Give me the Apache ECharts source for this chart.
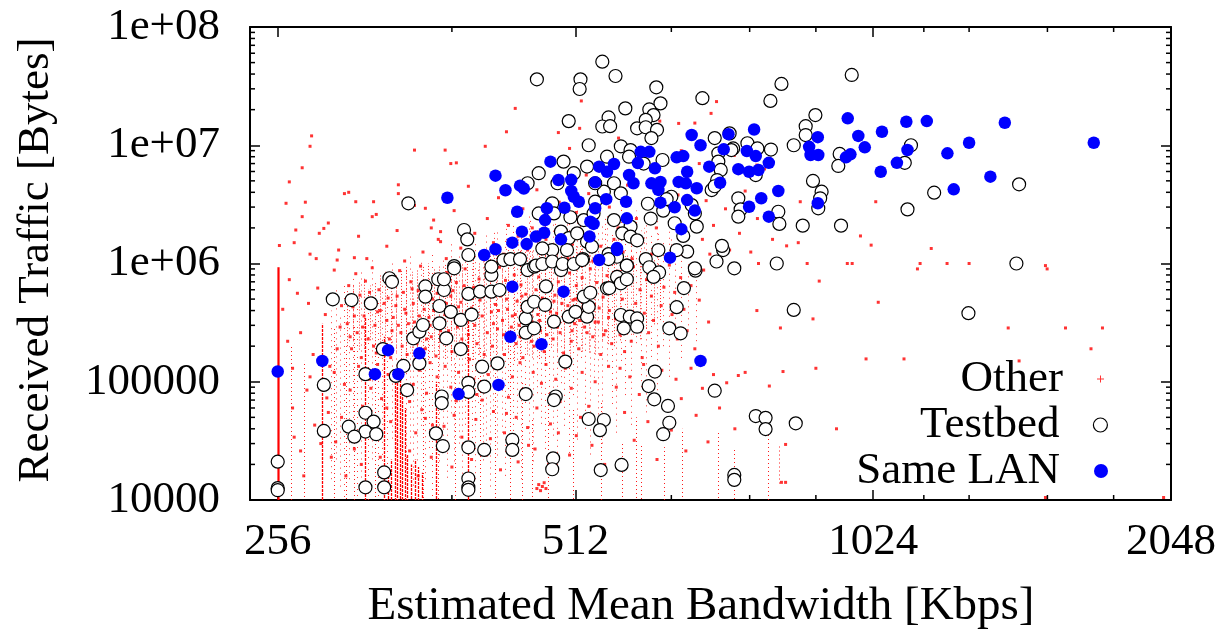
<!DOCTYPE html>
<html>
<head>
<meta charset="utf-8">
<script src="https://cdn.jsdelivr.net/npm/echarts@6/dist/echarts.min.js"></script>
<style>
  html, body { margin: 0; padding: 0; background: #fff; }
  #chart { width: 1223px; height: 641px; }
</style>
</head>
<body>
<div id="chart"></div>
<script>
// axes
const xMin = 240, xMax = 2048;
const yMin = 1e4, yMax = 1e8;
const xMinorTicks = [384, 640, 768, 896, 1152, 1280, 1536, 1792];
const yTickLabels = ['10000', '100000', '1e+06', '1e+07', '1e+08'];
const yMinorTicks = [
  2e4, 3e4, 4e4, 5e4, 6e4, 7e4, 8e4, 9e4,
  2e5, 3e5, 4e5, 5e5, 6e5, 7e5, 8e5, 9e5,
  2e6, 3e6, 4e6, 5e6, 6e6, 7e6, 8e6, 9e6,
  2e7, 3e7, 4e7, 5e7, 6e7, 7e7, 8e7, 9e7
];

// "Other" hosts: scattered dots [bandwidth, bytes]
const otherPoints = [
  [259,4.1e5],[262,2.2e5],[263,7.3e5],[265,1.3e5],[266,3.4e4],[268,5.6e5],[270,2.6e5],[272,1.6e4],[274,8.5e4],[275,4.6e5],
  [278,1.7e5],[281,6.2e5],[286,3.7e5],[288,5.5e4],[290,2.3e4],[292,8.8e5],[294,1.9e5],[297,4.4e5],[299,9.5e4],[296,2.9e5],
  [289,1.35e5],[283,3.0e4],
  [301,3.1e5],[302,6.5e5],[304,1.9e5],[305,4.3e5],[307,8.2e5],[308,2.6e5],[310,5.4e5],[311,1.6e5],[313,3.6e5],[314,7.1e5],
  [316,2.3e5],[318,4.8e5],[319,9.2e5],[321,3.0e5],[322,1.75e5],[324,6.0e5],[325,4.0e5],[327,2.1e5],[329,7.8e5],[330,3.3e5],
  [331,5.1e5],[333,1.6e5],[334,2.7e5],[336,6.6e5],[337,4.4e5],[339,3.0e5],[340,8.7e5],[342,2.0e5],[343,5.7e5],[345,3.8e5],
  [346,1.7e5],[348,2.5e5],[349,7.0e5],[351,4.6e5],[352,3.2e5],[354,2.1e5],[355,5.9e5],[357,9.5e5],[358,2.8e5],[360,4.1e5],
  [361,1.9e5],[363,6.4e5],[364,3.5e5],[366,2.4e5],[367,5.0e5],[369,7.6e5],[370,1.65e5],[372,3.1e5],[373,4.4e5],[375,2.2e5],
  [376,6.1e5],[378,3.7e5],[380,8.4e5],[381,2.7e5],[383,5.3e5],[384,1.8e5],[386,4.0e5],[388,6.9e5],[389,2.9e5],[391,2.0e5],
  [392,4.7e5],[394,3.4e5],[396,9.0e5],[397,5.6e5],[399,2.5e5],[400,1.55e5],[402,4.2e5],[404,6.3e5],[405,3.0e5],[407,2.1e5],
  [409,7.4e5],[410,4.9e5],[412,3.6e5],[414,1.7e5],[415,5.8e5],[417,2.6e5],[419,8.1e5],
  [303,2.4e5],[306,3.6e5],[312,2.9e5],[317,5.7e5],[320,2.0e5],[323,3.9e5],[328,4.6e5],[332,2.3e5],[335,3.5e5],[338,5.3e5],
  [341,2.6e5],[344,4.1e5],[347,3.1e5],[350,6.1e5],[353,2.7e5],[356,3.6e5],[359,5.0e5],[362,2.3e5],[365,3.0e5],[368,4.0e5],
  [371,5.6e5],[374,2.7e5],[377,3.3e5],[379,4.6e5],[382,2.4e5],[385,5.9e5],[387,3.4e5],[390,4.3e5],[393,2.3e5],[395,6.5e5],
  [421,3.9e5],[422,2.0e5],[424,6.2e5],[425,4.5e5],[427,2.8e5],[429,9.3e5],[430,5.3e5],[432,3.3e5],[434,1.7e5],[435,7.2e5],
  [437,4.1e5],[439,2.4e5],[440,5.9e5],[442,3.6e5],[444,8.0e5],[446,2.1e5],[447,4.8e5],[449,3.0e5],[451,6.6e5],[453,1.6e5],
  [454,3.9e5],[456,5.5e5],[458,2.6e5],[460,8.9e5],[461,4.4e5],[463,3.2e5],[465,2.0e5],[467,6.0e5],[469,3.7e5],[470,7.7e5],
  [472,2.7e5],[474,5.1e5],[476,1.8e5],[478,4.2e5],[480,6.8e5],[482,3.0e5],[484,9.6e5],[486,2.3e5],[488,5.4e5],[490,3.8e5],
  [492,7.0e5],[494,2.6e5],[496,4.6e5],[498,1.75e5],[500,6.1e5],[502,3.4e5],[505,8.3e5],[507,2.2e5],[509,4.9e5],[511,3.1e5],
  [513,6.5e5],[516,1.9e5],[518,4.0e5],[520,7.6e5],[523,2.9e5],[525,5.6e5],[528,3.5e5],[530,9.0e5],[533,2.4e5],[535,4.5e5],
  [538,6.9e5],[540,3.2e5],[543,1.7e5],[546,5.2e5],[549,2.7e5],[551,7.9e5],[554,4.0e5],[557,2.1e5],[559,6.0e5],
  [423,3.1e5],[428,4.0e5],[433,2.5e5],[436,5.0e5],[441,2.9e5],[445,3.7e5],[450,2.4e5],[452,5.3e5],[457,3.5e5],[462,2.2e5],
  [466,4.6e5],[471,3.3e5],[475,6.2e5],[479,2.5e5],[483,3.9e5],[487,4.8e5],[491,2.9e5],[495,5.7e5],[499,3.3e5],[503,4.4e5],
  [508,2.7e5],[512,5.0e5],[517,3.3e5],[521,4.3e5],[526,2.6e5],[531,5.4e5],[536,3.2e5],[541,4.2e5],[547,2.5e5],[553,3.5e5],
  [562,3.4e5],[565,8.6e5],[568,2.5e5],[571,5.0e5],[574,1.8e5],[577,6.7e5],[580,3.9e5],[583,2.2e5],[586,9.4e5],[589,4.6e5],
  [592,3.0e5],[595,6.0e5],[598,1.6e5],[601,3.8e5],[604,7.3e5],[607,2.6e5],[611,5.3e5],[614,3.3e5],[618,8.2e5],[621,2.0e5],
  [625,4.4e5],[629,6.3e5],[633,2.9e5],[637,9.7e5],[641,3.7e5],[645,5.7e5],[649,2.3e5],[654,7.6e5],[659,4.1e5],[664,2.7e5],
  [670,6.5e5],[676,1.9e5],[683,4.9e5],[690,8.8e5],[698,3.2e5],
  [292,1.2e5],[297,5.0e4],[303,8.5e4],[306,2.7e4],[309,1.35e5],[312,6.2e4],[317,1.05e5],[320,3.9e4],[323,1.4e5],[326,7.2e4],
  [331,1.15e5],[333,4.6e4],[346,1.3e5],[348,6.8e4],[351,9.5e4],[353,3.7e4],[356,1.25e5],[358,5.8e4],[362,8.0e4],[365,1.45e5],
  [367,4.3e4],[371,1.1e5],[374,6.5e4],[378,1.35e5],[380,2.9e4],[383,9.0e4],[386,5.2e4],[390,1.2e5],[393,3.4e4],[395,7.7e4],
  [404,1.05e5],[406,4.8e4],[409,1.4e5],[412,7.0e4],[416,2.4e4],[418,1.15e5],[423,5.6e4],[427,9.3e4],[431,1.35e5],[434,3.7e4],
  [438,7.4e4],[442,1.1e5],[446,5.0e4],[450,1.45e5],[455,8.2e4],[459,2.9e4],[464,1.2e5],[468,6.0e4],[473,9.7e4],[478,1.4e5],
  [483,4.4e4],[489,1.05e5],[494,6.8e4],[500,1.3e5],[507,8.8e4],[513,3.5e4],[520,1.2e5],[528,6.2e4],[536,1.0e5],[545,4.9e4],
  [553,1.35e5],
  [265,6.0e4],[270,2.6e4],[276,1.1e5],[279,4.3e4],[287,7.3e4],[293,3.1e4],[300,1.6e4],[311,2.0e4],[318,8.8e4],[325,2.3e4],
  [330,6.0e4],[348,2.6e4],[355,1.6e4],[361,4.9e4],[366,2.3e4],[377,4.2e4],[384,1.9e4],[388,6.9e4],[402,2.2e4],[407,7.8e4],
  [420,3.3e4],[430,1.8e4],[436,5.4e4],[448,2.1e4],[458,4.1e4],[466,2.7e4],[481,2.0e4],[492,3.7e4],[505,2.4e4],[518,5.0e4],
  [532,2.9e4],[548,2.0e4],
  [468,1.25e4],[470,1.35e4],[472,1.2e4],[474,1.3e4],[476,1.4e4],[478,1.25e4],
  [563,9.0e4],[568,1.3e5],[574,5.5e4],[581,1.1e5],[587,3.2e4],[594,7.8e4],[600,1.4e5],[606,4.6e4],[612,9.6e4],[619,2.2e4],
  [626,1.25e5],[633,6.4e4],[640,3.9e4],[647,1.05e5],[655,7.2e4],[662,2.6e4],[670,1.3e5],[678,5.2e4],[688,8.8e4],[697,3.1e4],
  [706,1.15e5],[716,6.0e4],[728,9.8e4],[742,4.0e4],[760,1.2e5],
  [266,1.5e6],[273,3.3e6],[280,1.1e6],[288,2.2e6],[295,1.3e6],[302,4.0e6],[309,1.7e6],[315,1.1e6],[322,2.6e6],[330,1.4e6],
  [338,1.9e6],[344,1.05e6],[352,3.1e6],[359,1.25e6],[366,2.0e6],[372,1.6e6],[379,1.1e6],[386,2.8e6],[392,1.35e6],[399,4.5e6],
  [405,1.8e6],[411,1.15e6],[417,2.4e6],[423,1.5e6],[428,3.6e6],[433,1.2e6],[438,2.1e6],[443,1.05e6],[448,1.7e6],[453,2.9e6],
  [458,1.3e6],[463,2.0e6],[468,4.2e6],[473,1.1e6],[478,1.6e6],[483,2.5e6],[488,1.25e6],[493,3.3e6],[498,1.9e6],[503,1.1e6],
  [508,1.45e6],[513,2.7e6],[518,1.2e6],[523,1.75e6],[528,3.9e6],[533,1.05e6],[538,2.2e6],[543,1.4e6],[549,1.15e6],[554,3.0e6],
  [560,1.6e6],[566,2.0e6],[572,1.25e6],[578,4.6e6],[584,1.1e6],[590,2.4e6],[597,1.5e6],[604,3.4e6],[611,1.2e6],[618,2.0e6],
  [626,1.35e6],[634,2.9e6],
  [261,3.23e6],[263,4.9e6],[257,1.42e6],[299,3.9e6],[307,3.33e6],[320,3.33e6],[319,2.49e6],[339,4.63e6],[339,3.9e6],[361,2.93e6],
  [368,2.33e6],[374,1.86e6],[374,1.53e6],[285,1.98e6],[282,1.8e6],[271,2.49e6],[267,1.92e6],[276,1.2e6],[294,1.07e6],[306,1.12e6],
  [277,1.2e7],[276,9.8e6],[271,6.45e6],[352,9.1e6],[378,9.1e6],[415,9.8e6],[383,7.0e6],[388,7.1e6],[445,2.05e7],[436,1.3e7],
  [519,2.37e7],[517,1.39e7],[492,1.28e7],[566,1.15e7],[470,6.0e6],[505,9.4e6],[525,5.6e6],[600,7.5e6],[623,1.6e7],
  [711,2.34e7],[702,1.86e7],[676,1.54e7],[651,1.53e7],[645,1.4e6],[650,3.8e6],[655,9.0e6],[659,1.9e6],[664,5.3e6],[668,1.15e6],
  [673,2.6e6],[683,7.0e6],[688,1.6e6],[694,3.4e6],[700,1.2e6],[706,2.1e6],[712,5.6e6],[719,1.05e6],[726,2.9e6],[733,1.3e6],
  [741,8.2e6],[750,1.8e6],[760,4.1e6],[770,1.25e6],[781,6.8e6],[782,2.4e6],[795,6.3e6],[810,1.6e6],[837,1.41e6],[860,1.5e6],
  [864,3.33e6],[1030,3.33e6],[1019,1.43e6],[1172,1.34e6],[994,1.71e6],[1135,9.0e5],[1535,9.0e5],
  [784,1.0e6],[878,1.0e6],[964,1.0e6],[975,1.0e6],[1142,1.0e6],[1216,1.0e6],[1280,1.0e6],[1529,9.6e5],[903,7.1e5],[1036,4.7e5],
  [781,4.0e5],[890,3.4e5],[825,2.85e5],[1402,2.85e5],[1602,2.85e5],[1746,2.85e5],[1700,1.9e5],[1007,1.56e5],[1100,1.56e5],[1438,1.5e5],
  [896,1.3e5],[830,1.22e5],[748,1.13e5],[804,9.2e4],[940,4.0e4],[835,2.95e4],[827,1.41e4],[835,1.41e4],[1529,1.05e4],[2013,1.05e4]
];

// "Other" hosts that pile up on one bandwidth value: [bandwidth, bytesLow, bytesHigh]
const otherMainRun = [[256, 1e4, 9.3e5]];
const otherDenseRuns = [
  [284,1e4,3.1e5],[314,1e4,3.5e5],[328,1e4,2.4e5],[331,1e4,1.8e4],[333,1e4,2.2e4],
  [336,1e4,1.1e5],[338,1e4,1.2e5],[340,1e4,1.1e5],[342,1e4,9.0e4],[344,1e4,6.0e4],
  [346,1e4,2.4e4],[349,1e4,2.0e4],[352,1e4,2.2e4],[355,1e4,1.9e4],[358,1e4,1.7e4],
  [370,1e4,1.0e5],[399,1e4,3.5e5]
];
const otherFaintRuns = [
  [264,1e4,2.0e5],[272,1e4,1.5e5],[292,1e4,2.8e5],[300,1e4,2.0e5],[306,1e4,3.0e5],[321,1e4,2.2e5],
  [359,1e4,1.8e5],[372,1e4,2.6e5],[387,1e4,1.5e5],[410,1e4,2.0e5],[425,1e4,1.2e5],[440,1e4,2.8e5],
  [452,1e4,1.0e5],[463,1e4,5.0e4],[480,1e4,8.0e4],[509,1e4,6.0e4],[543,1e4,7.0e4],[570,1e4,3.0e4],
  [590,1e4,5.0e4],[597,1e4,3.0e4],[629,1e4,2.8e4],[656,1e4,4.0e4],[714,1e4,3.8e4],[741,1e4,2.8e4],
  [801,1e4,3.6e4],[822,1.3e4,3.0e4]
];
// core of the cloud, where the dots overlap into columns
const otherCoreRuns = [
  [301,2.0e5,6.0e5],[309,1.8e5,7.0e5],[317,2.2e5,6.5e5],[325,1.7e5,8.0e5],[333,2.0e5,7.5e5],[341,1.5e5,9.0e5],
  [350,1.6e5,8.5e5],[359,1.5e5,9.5e5],[368,1.7e5,9.0e5],[378,1.5e5,1.0e6],[388,1.6e5,9.0e5],[398,1.5e5,1.1e6],
  [409,1.7e5,1.0e6],[420,1.5e5,1.2e6],[432,1.8e5,1.1e6],[444,1.5e5,1.3e6],[457,1.7e5,1.2e6],[470,1.5e5,1.4e6],
  [484,1.9e5,1.3e6],[498,1.6e5,1.5e6],[513,2.0e5,1.4e6],[528,1.7e5,1.6e6],[544,2.2e5,1.3e6],[560,2.0e5,1.5e6],
  [577,2.5e5,1.2e6],[595,2.2e5,1.3e6],[614,3.0e5,1.1e6],
  [305,2.2e5,6.5e5],[313,1.9e5,7.5e5],[321,2.0e5,7.0e5],[329,1.6e5,8.5e5],[337,1.8e5,8.0e5],[345,1.5e5,9.5e5],
  [354,1.7e5,9.0e5],[363,1.5e5,1.0e6],[373,1.6e5,9.5e5],[383,1.5e5,1.05e6],[393,1.7e5,1.0e6],[403,1.5e5,1.1e6],
  [414,1.6e5,1.1e6],[426,1.5e5,1.2e6],[438,1.7e5,1.2e6],[450,1.5e5,1.3e6],[463,1.6e5,1.3e6],[477,1.5e5,1.4e6],
  [491,1.7e5,1.4e6],[505,1.6e5,1.5e6],[520,1.8e5,1.5e6],[536,1.7e5,1.5e6],[552,2.0e5,1.4e6],[568,2.2e5,1.3e6],
  [586,2.5e5,1.2e6],[604,2.8e5,1.1e6],[624,3.2e5,1.0e6]
];
const otherUpperRuns = [
  [424,9e5,1.9e6],[436,9e5,2.2e6],[448,1e6,2.0e6],[461,9e5,2.4e6],[474,1e6,2.2e6],[488,9e5,2.6e6],[502,1e6,2.4e6],
  [517,9e5,2.6e6],[532,1e6,2.3e6],[548,9e5,2.5e6],[565,1e6,2.2e6],[583,9e5,2.4e6],[601,1e6,2.0e6],[620,9e5,1.8e6],
  [640,1e6,1.6e6]
];
const otherOuterRuns = [
  [290,1.5e4,4e5],[293,2e4,6e5],[296,1.2e4,3.5e5],[299,1e4,7e5],[302,1.5e4,5e5],[305,2.5e4,8e5],[308,1e4,4.5e5],
  [311,1.3e4,9e5],[316,1e4,6e5],[319,2e4,1.1e6],[323,1e4,5e5],[326,1.6e4,8e5],[330,1e4,6.5e5],[334,3e4,1.0e6],
  [337,2.2e4,7e5],[345,1.5e4,9e5],[348,3e4,1.2e6],[351,1.2e4,6e5],[354,2e4,8e5],[357,4e4,1.1e6],[361,1.5e4,7e5],
  [364,2.5e4,9e5],[367,1e4,1.3e6],[373,2e4,8e5],[376,3.5e4,1.1e6],[380,1.4e4,7e5],[383,5e4,1.5e6],[386,2e4,9e5],
  [390,3e4,1.2e6],[393,1.2e4,8e5],[396,4e4,1.4e6],[402,2.5e4,1.0e6],[405,1.5e4,1.6e6],[408,6e4,9e5],[413,2e4,1.3e6],
  [416,3e4,1.8e6],[420,1.3e4,1.0e6],[423,5e4,1.5e6],[427,2.2e4,2.0e6],[431,3.5e4,1.1e6],[435,1.6e4,1.7e6],[438,7e4,1.3e6],
  [443,2.5e4,2.2e6],[447,4.5e4,1.2e6],[451,1.5e4,1.9e6],[455,6e4,1.4e6],[459,3e4,2.5e6],[464,2e4,1.3e6],[468,8e4,2.0e6],
  [472,4e4,1.6e6],[477,2.5e4,2.4e6],[481,6e4,1.5e6],[486,3.5e4,2.8e6],[490,1.8e4,1.7e6],[495,9e4,2.2e6],[499,4e4,1.4e6],
  [504,2.5e4,2.6e6],[509,7e4,1.8e6],[514,3e4,3.0e6],[519,1.5e5,2.0e6],[524,4e4,1.6e6],[529,2.2e4,2.4e6],[534,1e5,3.2e6],
  [540,5e4,1.8e6],[545,3e4,2.2e6],[551,1.2e5,2.7e6],[557,6e4,1.9e6],[563,3.5e4,2.5e6],[569,1.5e5,3.0e6],[575,7e4,2.0e6],
  [582,4e4,2.4e6],[589,2e5,2.8e6],[596,9e4,1.9e6],[603,5e4,2.2e6],[611,1.5e5,1.8e6],[619,8e4,2.5e6],[627,2e5,1.6e6],
  [636,1e5,2.0e6],[645,2.5e5,1.5e6],[655,1.5e5,1.2e6],[666,3e5,1.0e6],[678,2e5,8e5]
];

// Testbed hosts
const testbedPoints = [
  [545,5.09e7],[468,3.61e7],[518,3.61e7],[517,2.99e7],[562,3.85e7],[575,2.05e7],[504,1.6e7],[553,1.72e7],[545,1.44e7],[555,1.45e7],
  [591,1.39e7],[528,1.0e7],[569,9.8e6],[582,9.1e6],[551,8.0e6],[580,8.0e6],[498,7.27e6],[470,5.8e6],[510,5.8e6],[526,6.6e6],
  [560,4.77e6],[547,4.05e6],[569,3.92e6],[536,4.77e6],[491,4.77e6],[458,4.77e6],[347,3.23e6],[485,3.23e6],[487,2.65e6],[470,2.65e6],
  [506,2.46e6],[522,2.33e6],[536,3.33e6],[534,2.65e6],[560,2.33e6],[582,2.05e6],[395,1.92e6],[398,1.6e6],[399,1.18e6],[495,1.86e6],
  [504,1.64e6],[514,1.8e6],[485,1.3e6],[474,1.34e6],[502,1.3e6],[521,1.09e6],[526,1.53e6],[532,1.39e6],[571,1.8e6],[582,1.69e6],
  [591,1.57e6],[553,1.2e6],[577,9.6e5],[386,9.5e5],
  [256,2.11e4],[256,1.26e4],[256,1.21e4],[291,4.98e5],[304,4.91e5],[318,4.6e5],[332,7.5e5],[334,7.0e5],[327,1.89e5],[314,1.16e5],
  [285,9.4e4],[285,3.84e4],[337,1.12e5],[343,1.36e5],[346,8.5e4],[356,1.43e5],[351,2.33e5],[356,2.65e5],[359,3.02e5],[361,6.4e5],
  [361,5.24e5],[314,5.47e4],[320,4.6e4],[314,3.79e4],[322,3.6e4],[302,4.17e4],[306,3.43e4],[314,1.28e4],[328,1.28e4],[328,1.71e4],
  [372,7.36e5],[377,5.97e5],[377,7.36e5],[386,9.1e5],[373,4.37e5],[373,3.12e5],[379,2.33e5],[383,3.9e5],[392,3.33e5],[402,3.7e5],
  [392,1.89e5],[399,5.53e5],[410,5.78e5],[421,5.78e5],[429,5.97e5],[421,8.0e5],[421,9.4e5],[433,1.07e6],[440,1.09e6],[450,1.09e6],
  [458,8.8e5],[465,9.4e5],[412,1.34e5],[427,1.43e5],[399,9.8e4],[399,8.2e4],[414,9.1e4],[375,7.5e4],[375,6.6e4],[370,3.66e4],
  [376,2.86e4],[399,2.79e4],[414,2.65e4],[399,1.52e4],[399,1.28e4],[399,1.22e4],[442,3.22e4],[442,2.65e4],[456,7.87e4],[489,7.5e4],
  [487,7.0e4],[528,4.84e4],[547,4.75e4],[542,3.9e4],[486,2.25e4],[485,1.82e4],[543,1.79e4],[570,1.98e4],[569,3.67e5],[581,3.55e5],
  [591,3.43e5],[573,2.83e5],[487,3.22e5],[504,3.55e5],[526,3.55e5],[512,3.9e5],[528,4.3e5],[522,5.24e5],[530,5.66e5],[551,6.17e5],
  [564,7.7e5],[577,9.6e5],[564,1.14e6],[456,2.6e5],[465,2.83e5],[456,3.43e5],[458,4.3e5],[465,4.75e5],[477,4.46e5],[478,6.4e5],
  [467,9.6e5],[474,9.9e5],[485,1.04e6],[495,8.8e5],[497,9.9e5],[510,9.9e5],[520,1.07e6],[500,1.48e5],[554,6.2e5],[569,6.8e5],
  [577,7.36e5],[553,1.09e6],[591,2.92e5],
  [603,1.09e6],[608,9.3e5],[622,8.4e5],[614,7.7e5],[637,2.83e5],[654,2.57e5],[659,6.2e5],[648,4.27e5],[677,8.7e5],[711,1.04e6],
  [741,9.1e5],[722,1.3e6],[818,1.0e6],[1429,1.0e6],[851,4.05e5],[1278,3.8e5],[616,1.22e5],[607,9.2e4],[615,7.1e4],[635,6.24e4],
  [637,4.5e4],[628,3.6e4],[708,8.4e4],[779,5.13e4],[797,4.95e4],[797,3.98e4],[855,4.45e4],[741,1.63e4],[741,1.48e4],
  [974,3.93e7],[827,3.3e7],[806,2.37e7],[688,2.5e7],[618,3.09e7],[624,2.26e7],[608,2.01e7],[614,1.8e7],[603,1.64e7],[603,1.42e7],
  [619,1.35e7],[611,1.15e7],[708,1.15e7],[733,1.26e7],[739,9.4e6],[714,8.55e6],[714,7.27e6],[718,6.18e6],[712,5.08e6],[703,4.18e6],
  [708,4.5e6],[764,1.04e7],[782,9.4e6],[807,9.2e6],[736,9.1e6],[779,5.6e6],[748,3.56e6],[752,2.87e6],[748,2.49e6],[821,2.74e6],
  [823,2.16e6],[851,1.0e7],[875,1.45e7],[875,1.22e7],[895,1.8e7],[890,4.99e6],[908,4.05e6],[905,3.56e6],[901,2.93e6],[947,8.44e6],
  [944,6.68e6],[950,2.09e6],[869,2.09e6],[1102,7.1e6],[1118,1.0e7],[1109,2.87e6],[1180,3.97e6],[1438,4.67e6],[627,7.5e6],[640,3.67e6],
  [645,2.19e6],[658,1.71e6],[664,1.26e6],[648,1.3e6],[621,1.3e6],[676,2.65e6],[671,3.12e6],[679,2.05e6],[720,1.41e6],[676,9.1e5],
  [600,7.0e6],[606,3.2e6],[628,2.8e6],[633,3.5e6],[610,2.4e6]
];

// Same LAN hosts
const sameLanPoints = [
  [256,1.22e5],[284,1.5e5],[331,1.85e5],[321,1.16e5],[356,1.74e5],[339,1.16e5],[390,7.87e4],[428,9.4e4],[442,6.37e5],[498,5.78e5],
  [440,2.4e5],[473,2.08e5],[541,1.07e6],[564,1.3e6],[685,1.5e5],
  [380,3.6e6],[425,5.53e6],[435,4.16e6],[450,4.55e6],[454,4.3e6],[483,7.26e6],[492,5.08e6],[507,5.1e6],[507,4.1e6],[510,3.67e6],
  [516,3.33e6],[447,2.74e6],[479,2.93e6],[477,2.33e6],[499,2.96e6],[452,1.86e6],[467,1.69e6],[476,1.82e6],[457,1.46e6],[442,1.5e6],
  [425,1.32e6],[414,1.18e6],[495,1.6e6],[530,2.26e6],[534,2.16e6],[529,1.69e6],[536,2.93e6],[550,3.5e6],[536,4.86e6],[541,6.59e6],
  [551,5.97e6],[560,6.94e6],[576,3.33e6],[577,2.41e6],[580,5.6e6],[586,4.77e6],[592,7.07e6],[564,1.35e6],
  [596,8.8e6],[608,8.8e6],[616,6.38e6],[611,4.76e6],[624,4.9e6],[621,4.19e6],[624,3.27e6],[645,2.99e6],[655,1.95e6],[638,1.12e6],
  [671,1.22e7],[685,1.0e7],[648,7.9e6],[658,8.1e6],[664,5.97e6],[651,4.9e6],[662,4.76e6],[679,4.33e6],[664,3.44e6],[676,2.8e6],
  [699,6.59e6],[717,4.82e6],[723,9.23e6],[731,1.24e7],[748,6.28e6],[763,8.94e6],[779,8.1e6],[767,5.97e6],[784,6.18e6],[776,1.36e7],
  [803,7.1e6],[821,4.1e6],[789,3.56e6],[767,3.02e6],[803,2.49e6],[882,9.7e6],[901,8.27e6],[885,8.27e6],[900,1.17e7],[900,3.23e6],
  [965,1.69e7],[989,1.2e7],[1004,9.6e6],[961,7.9e6],[971,8.38e6],[1042,5.97e6],[1045,1.3e7],[1082,7.1e6],[1106,1.58e7],[1109,9.12e6],
  [1160,1.6e7],[1217,8.55e6],[1235,4.24e6],[1280,1.05e7],[1345,5.42e6],[1391,1.55e7],[1711,1.05e7]
];

const FONT = 'Liberation Serif';
const FS = 45;
const RED = '#ff0000';

// vertical run of overlapping dots, drawn through the axes
function makeRun(lineWidth, dash, opacity) {
  return function (params, api) {
    const a = api.coord([api.value(0), api.value(1)]);
    const b = api.coord([api.value(0), api.value(2)]);
    const x = Math.round(a[0]) + 0.5;
    return {
      type: 'line',
      shape: { x1: x, y1: a[1], x2: x, y2: b[1] },
      style: { stroke: RED, lineWidth: lineWidth, lineDash: dash, lineDashOffset: params.dataIndex % 4, opacity: opacity }
    };
  };
}

function runSeries(name, data, lineWidth, dash, opacity) {
  return { name: name, type: 'custom', data: data, encode: { x: 0, y: [1, 2] },
    renderItem: makeRun(lineWidth, dash, opacity), z: 1, silent: true };
}

const chart = echarts.init(document.getElementById('chart'), null, { renderer: 'canvas' });

const xAxisBase = {
  type: 'log', logBase: 2, min: xMin, max: xMax,
  splitLine: { show: false },
  axisLine: { show: true, onZero: false, lineStyle: { color: '#000', width: 2 } },
  axisTick: { show: true, inside: true, length: 10, lineStyle: { color: '#000', width: 1.5 } }
};
const yAxisBase = {
  type: 'log', logBase: 10, min: yMin, max: yMax,
  splitLine: { show: false },
  axisLine: { show: true, onZero: false, lineStyle: { color: '#000', width: 2 } },
  axisTick: { show: true, inside: true, length: 10, lineStyle: { color: '#000', width: 1.5 } }
};

const legendBase = {
  orient: 'vertical', align: 'right', padding: 0, selectedMode: false,
  textStyle: { fontFamily: FONT, fontSize: FS, color: '#000', lineHeight: 46, padding: [0, 29, 0, 0] }
};

const option = {
  animation: false,
  backgroundColor: '#fff',
  grid: { left: 250, right: 52, top: 27, bottom: 141, containLabel: false },
  xAxis: [
    Object.assign({}, xAxisBase, {
      position: 'bottom',
      axisLabel: { showMinLabel: false, fontFamily: FONT, fontSize: FS, color: '#000', margin: 20,
        formatter: function (v) { return String(Math.round(v)); } }
    }),
    Object.assign({}, xAxisBase, { position: 'top', axisLabel: { show: false } })
  ],
  yAxis: [
    Object.assign({}, yAxisBase, {
      position: 'left',
      axisLabel: {
        fontFamily: FONT, fontSize: FS, color: '#000', margin: 30,
        formatter: function (v) { return yTickLabels[Math.round(Math.log10(v)) - 4]; }
      }
    }),
    Object.assign({}, yAxisBase, { position: 'right', axisLabel: { show: false } })
  ],
  legend: [
    Object.assign({}, legendBase, {
      top: 356, right: 119, itemWidth: 7, itemHeight: 7,
      data: [{ name: 'Other', icon: 'path://M3,0h1v3h3v1h-3v3h-1v-3h-3v-1h3z', itemStyle: { color: RED } }]
    }),
    Object.assign({}, legendBase, {
      top: 402, right: 115, itemWidth: 14, itemHeight: 14,
      data: [{ name: 'Testbed', icon: 'circle', itemStyle: { color: '#fff', borderColor: '#000', borderWidth: 1.2 } }]
    }),
    Object.assign({}, legendBase, {
      top: 448, right: 115, itemWidth: 14, itemHeight: 14,
      data: [{ name: 'Same LAN', icon: 'circle', itemStyle: { color: '#0000ff' } }]
    })
  ],
  graphic: [
    { type: 'text', x: 36, y: 260, rotation: Math.PI / 2,
      style: { text: 'Received Traffic [Bytes]', font: FS + 'px "' + FONT + '"', fill: '#000', align: 'center', verticalAlign: 'middle' } },
    { type: 'text', x: 701, y: 607,
      style: { text: 'Estimated Mean Bandwidth [Kbps]', font: '47px "' + FONT + '"', fill: '#000', align: 'center', verticalAlign: 'middle' } }
  ],
  series: [
    { name: 'Other', type: 'scatter', data: otherPoints, symbol: 'rect', symbolSize: 3,
      itemStyle: { color: RED }, z: 1, silent: true },
    runSeries('otherOuter', otherOuterRuns, 1, [1, 5], 0.8),
    runSeries('otherUpper', otherUpperRuns, 1, [1, 4], 0.8),
    runSeries('otherCore', otherCoreRuns, 1, [1, 2], 0.85),
    runSeries('otherFaint', otherFaintRuns, 1, [1, 3], 0.9),
    runSeries('otherDense', otherDenseRuns, 1.3, [3, 1], 1),
    runSeries('otherMain', otherMainRun, 2.2, null, 1),
    { name: 'Testbed', type: 'scatter', data: testbedPoints, symbol: 'circle', symbolSize: 13,
      itemStyle: { color: '#fff', borderColor: '#000', borderWidth: 1.2, opacity: 1 }, z: 2, silent: true },
    { name: 'Same LAN', type: 'scatter', data: sameLanPoints, symbol: 'circle', symbolSize: 12.5,
      itemStyle: { color: '#0000ff', opacity: 1 }, z: 3, silent: true },
    { name: 'xMinor', type: 'custom', data: xMinorTicks.map(v => [v, yMin]), clip: false, z: 5, silent: true,
      renderItem: function (params, api) {
        const b = api.coord([api.value(0), yMin]);
        const t = api.coord([api.value(0), yMax]);
        const st = { stroke: '#000', lineWidth: 1.5 };
        return { type: 'group', children: [
          { type: 'line', shape: { x1: b[0], y1: b[1], x2: b[0], y2: b[1] - 5 }, style: st },
          { type: 'line', shape: { x1: t[0], y1: t[1], x2: t[0], y2: t[1] + 5 }, style: st }
        ] };
      } },
    { name: 'yMinor', type: 'custom', data: yMinorTicks.map(v => [xMin, v]), clip: false, z: 5, silent: true,
      renderItem: function (params, api) {
        const l = api.coord([xMin, api.value(1)]);
        const r = api.coord([xMax, api.value(1)]);
        const st = { stroke: '#000', lineWidth: 1.5 };
        return { type: 'group', children: [
          { type: 'line', shape: { x1: l[0], y1: l[1], x2: l[0] + 5, y2: l[1] }, style: st },
          { type: 'line', shape: { x1: r[0], y1: r[1], x2: r[0] - 5, y2: r[1] }, style: st }
        ] };
      } }
  ]
};

chart.setOption(option);
window.addEventListener('resize', function () { chart.resize(); });
</script>
</body>
</html>
